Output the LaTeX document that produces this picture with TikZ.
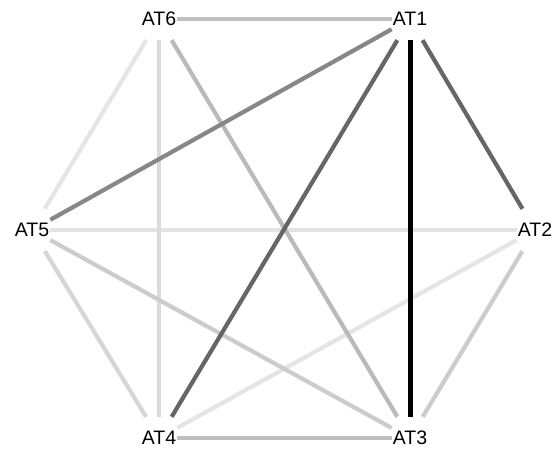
\documentclass[tikz,border=0pt]{standalone}
\usepackage{fontspec}
\setmainfont{Liberation Sans}
\begin{document}
\begin{tikzpicture}[x=1pt,y=-1pt,
  lbl/.style={inner xsep=1pt, inner ysep=0pt, minimum height=42pt, font=\fontsize{19.5}{22}\selectfont},
  edge/.style={line width=4.2pt}]
\useasboundingbox (0,0) rectangle (554,448);
\definecolor{g1}{gray}{0.75}
\definecolor{g2}{gray}{0.53}
\definecolor{g3}{gray}{0.40}
\definecolor{g5}{gray}{0.90}
\definecolor{g6}{gray}{0.86}
\definecolor{g7}{gray}{0.73}
\definecolor{g8}{gray}{0.89}
\definecolor{g9}{gray}{0.84}
\definecolor{g10}{gray}{0.80}
\node[lbl] (a6) at (159,19) {AT6};
\node[lbl] (a1) at (410,19) {AT1};
\node[lbl] (a5) at (32,230) {AT5};
\node[lbl] (a2) at (535,230) {AT2};
\node[lbl] (a4) at (159,438) {AT4};
\node[lbl] (a3) at (410,438) {AT3};
% light edges first
\draw[edge,g5] (a6) -- (a5);
\draw[edge,g8] (a5) -- (a2);
\draw[edge,g5] (a2) -- (a4);
\draw[edge,g6] (a6) -- (a4);
\draw[edge,g9] (a5) -- (a4);
\draw[edge,g10] (a5) -- (a3);
\draw[edge,g10] (a2) -- (a3);
\draw[edge,g7] (a6) -- (a3);
\draw[edge,g1] (a6) -- (a1);
\draw[edge,g1] (a4) -- (a3);
\draw[edge,g2] (a1) -- (a5);
\draw[edge,g3] (a1) -- (a4);
\draw[edge,g3] (a1) -- (a2);
\draw[line width=5pt,black] (a1) -- (a3);
\end{tikzpicture}
\end{document}
